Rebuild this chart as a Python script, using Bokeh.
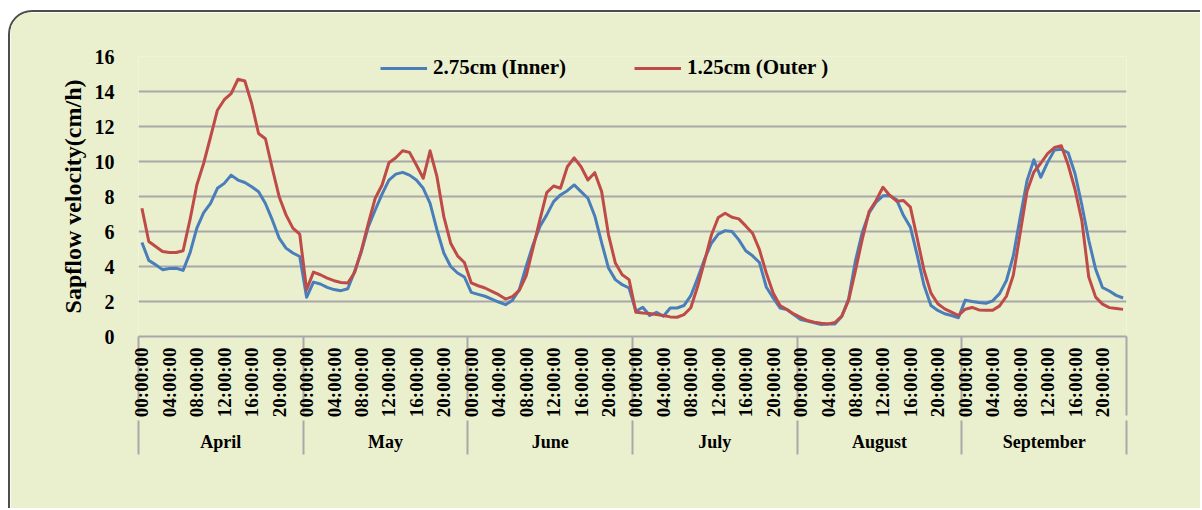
import numpy as np
from bokeh.plotting import figure
from bokeh.models import (Range1d, LinearAxis, FixedTicker,
                          Legend, LegendItem, ColumnDataSource)
from bokeh.embed import file_html
from bokeh.resources import INLINE

# ---- data: hourly mean sap-flow velocity (cm/h) per month -------------------
months = ["April", "May", "June", "July", "August", "September"]
hours = ["%02d:00:00" % h for h in range(24)]
labelled_hours = [0, 4, 8, 12, 16, 20]

inner_april = [5.37, 4.35, 4.10, 3.82, 3.89, 3.90, 3.78, 4.77, 6.19, 7.08, 7.61, 8.47,
               8.75, 9.22, 8.94, 8.80, 8.56, 8.27, 7.60, 6.66, 5.62, 5.05, 4.77, 4.57]
inner_may = [2.24, 3.11, 3.00, 2.81, 2.68, 2.62, 2.73, 3.72, 4.86, 6.28, 7.23, 8.14,
             8.94, 9.28, 9.38, 9.22, 8.94, 8.47, 7.61, 6.09, 4.77, 4.00, 3.63, 3.40]
inner_june = [2.52, 2.41, 2.30, 2.14, 1.97, 1.82, 2.07, 2.68, 4.00, 5.24, 6.28, 6.95,
              7.71, 8.09, 8.33, 8.66, 8.28, 7.90, 6.89, 5.37, 3.91, 3.25, 2.96, 2.77]
inner_july = [1.44, 1.67, 1.20, 1.38, 1.16, 1.63, 1.63, 1.77, 2.33, 3.34, 4.42, 5.33,
              5.85, 6.05, 6.00, 5.52, 4.90, 4.61, 4.23, 2.83, 2.20, 1.63, 1.54, 1.25]
inner_august = [0.97, 0.88, 0.78, 0.69, 0.72, 0.72, 1.14, 2.15, 4.34, 5.96, 7.07, 7.68,
                8.04, 8.06, 7.81, 6.91, 6.25, 4.63, 2.91, 1.77, 1.49, 1.30, 1.20, 1.07]
inner_september = [2.08, 2.00, 1.94, 1.90, 2.04, 2.45, 3.20, 4.60, 6.80, 8.90, 10.10, 9.10,
                   9.95, 10.65, 10.70, 10.50, 9.30, 7.50, 5.50, 3.85, 2.80, 2.60, 2.35, 2.20]

outer_april = [7.33, 5.43, 5.14, 4.86, 4.80, 4.80, 4.90, 6.66, 8.66, 9.90, 11.40, 12.93,
               13.53, 13.88, 14.70, 14.60, 13.30, 11.60, 11.30, 9.60, 7.99, 6.95, 6.19, 5.85]
outer_may = [2.68, 3.68, 3.53, 3.34, 3.19, 3.09, 3.06, 3.66, 4.95, 6.47, 7.90, 8.66,
             9.93, 10.21, 10.61, 10.52, 9.80, 9.04, 10.61, 9.13, 6.85, 5.33, 4.61, 4.23]
outer_june = [3.06, 2.90, 2.77, 2.58, 2.39, 2.14, 2.28, 2.64, 3.47, 5.05, 6.66, 8.22,
              8.60, 8.47, 9.70, 10.21, 9.70, 8.94, 9.36, 8.28, 5.81, 4.20, 3.53, 3.25]
outer_july = [1.38, 1.34, 1.31, 1.25, 1.20, 1.12, 1.10, 1.25, 1.64, 2.87, 4.30, 5.80,
              6.80, 7.04, 6.81, 6.72, 6.32, 5.90, 4.96, 3.63, 2.49, 1.77, 1.54, 1.29]
outer_august = [1.10, 0.91, 0.82, 0.76, 0.72, 0.80, 1.16, 2.06, 3.77, 5.58, 7.16, 7.77,
                8.53, 8.06, 7.73, 7.77, 7.39, 5.60, 3.77, 2.48, 1.87, 1.58, 1.39, 1.20]
outer_september = [1.56, 1.66, 1.52, 1.50, 1.50, 1.75, 2.30, 3.50, 5.90, 8.30, 9.40, 9.90,
                   10.45, 10.80, 10.90, 9.80, 8.40, 6.60, 3.40, 2.25, 1.85, 1.65, 1.60, 1.55]

y_ticks = [0, 2, 4, 6, 8, 10, 12, 14, 16]

inner = (inner_april + inner_may + inner_june + inner_july
         + inner_august + inner_september)
outer = (outer_april + outer_may + outer_june + outer_july
         + outer_august + outer_september)

n_h = len(hours)
n = len(months) * n_h
idx = list(range(n))

# ---- styling -----------------------------------------------------------------
BG = "#EAF0CE"
GRID = "#A8A8A8"
BLUE = "#4A7EBB"
RED = "#BE4B48"
FONT = "Liberation Serif"

source = ColumnDataSource(dict(x=idx, inner=inner, outer=outer))

p = figure(width=1192, height=498, output_backend="svg", toolbar_location=None,
           x_range=Range1d(-0.5, n - 0.5), y_range=Range1d(y_ticks[0], y_ticks[-1]),
           x_axis_location=None,
           min_border_left=128, min_border_right=76, min_border_top=44, min_border_bottom=174,
           background_fill_color=BG, border_fill_color=BG, outline_line_color=None,
           margin=(10, 0, 0, 8))
p.styles = {"border-top": "2px solid #4D4D4D", "border-left": "2px solid #4D4D4D",
            "border-top-left-radius": "24px", "overflow": "hidden"}

# y axis
yax = p.yaxis[0]
yax.ticker = FixedTicker(ticks=y_ticks)
yax.axis_line_color = None
yax.major_tick_line_color = None
yax.minor_tick_line_color = None
yax.major_label_standoff = 18
yax.major_label_text_font = FONT
yax.major_label_text_font_style = "bold"
yax.major_label_text_font_size = "20px"
yax.major_label_text_color = "black"
yax.axis_label = "Sapflow velocity(cm/h)"
yax.axis_label_text_font = FONT
yax.axis_label_text_font_style = "bold"
yax.axis_label_text_font_size = "24px"
yax.axis_label_text_color = "black"
yax.axis_label_standoff = 6

p.xgrid.grid_line_color = None
p.ygrid.ticker = FixedTicker(ticks=y_ticks)
p.ygrid.grid_line_color = GRID
p.ygrid.grid_line_width = 2

# month boundaries on the category axis
bounds = [m * n_h - 0.5 for m in range(len(months) + 1)]

# hour labels (every fourth hour); the long minor ticks mark month boundaries,
# a negative standoff keeps the labels close to the axis line
HOUR_SEP = 79
hour_ticks = [m * n_h + h for m in range(len(months)) for h in labelled_hours]
hour_axis = LinearAxis(
    ticker=FixedTicker(ticks=hour_ticks, minor_ticks=bounds),
    major_label_overrides={t: hours[t % n_h] for t in hour_ticks},
    major_label_orientation=np.pi / 2,
    axis_line_color=GRID, axis_line_width=2,
    major_tick_line_color=None, major_tick_in=0, major_tick_out=0,
    minor_tick_line_color=GRID, minor_tick_line_width=2, minor_tick_in=0,
    minor_tick_out=HOUR_SEP,
    major_label_standoff=11 - HOUR_SEP,
    major_label_text_font=FONT, major_label_text_font_style="bold",
    major_label_text_font_size="19px", major_label_text_color="black")
p.add_layout(hour_axis, "below")

# month group labels
MONTH_SEP = 34
month_ticks = [m * n_h + (n_h - 1) / 2 for m in range(len(months))]
month_axis = LinearAxis(
    ticker=FixedTicker(ticks=month_ticks, minor_ticks=bounds),
    major_label_overrides={t: months[i] for i, t in enumerate(month_ticks)},
    axis_line_color=None,
    major_tick_line_color=None, major_tick_in=0, major_tick_out=0,
    minor_tick_line_color=GRID, minor_tick_line_width=2, minor_tick_in=0,
    minor_tick_out=MONTH_SEP,
    major_label_standoff=11 - MONTH_SEP,
    major_label_text_font=FONT, major_label_text_font_style="bold",
    major_label_text_font_size="18px", major_label_text_color="black")
p.add_layout(month_axis, "below")

# series
r_in = p.line("x", "inner", source=source, line_color=BLUE, line_width=3, line_join="round")
r_out = p.line("x", "outer", source=source, line_color=RED, line_width=3, line_join="round")

legend = Legend(items=[LegendItem(label="2.75cm (Inner)", renderers=[r_in]),
                       LegendItem(label="1.25cm (Outer )", renderers=[r_out])],
                orientation="horizontal", location=(242, 256),
                background_fill_alpha=0, border_line_color=None,
                label_text_font=FONT, label_text_font_style="bold",
                label_text_font_size="21px", label_text_color="black",
                glyph_width=47, glyph_height=20, label_height=21, label_standoff=6,
                spacing=68, padding=0, margin=0)
p.add_layout(legend)

open("out.html", "w").write(file_html(p, INLINE))
